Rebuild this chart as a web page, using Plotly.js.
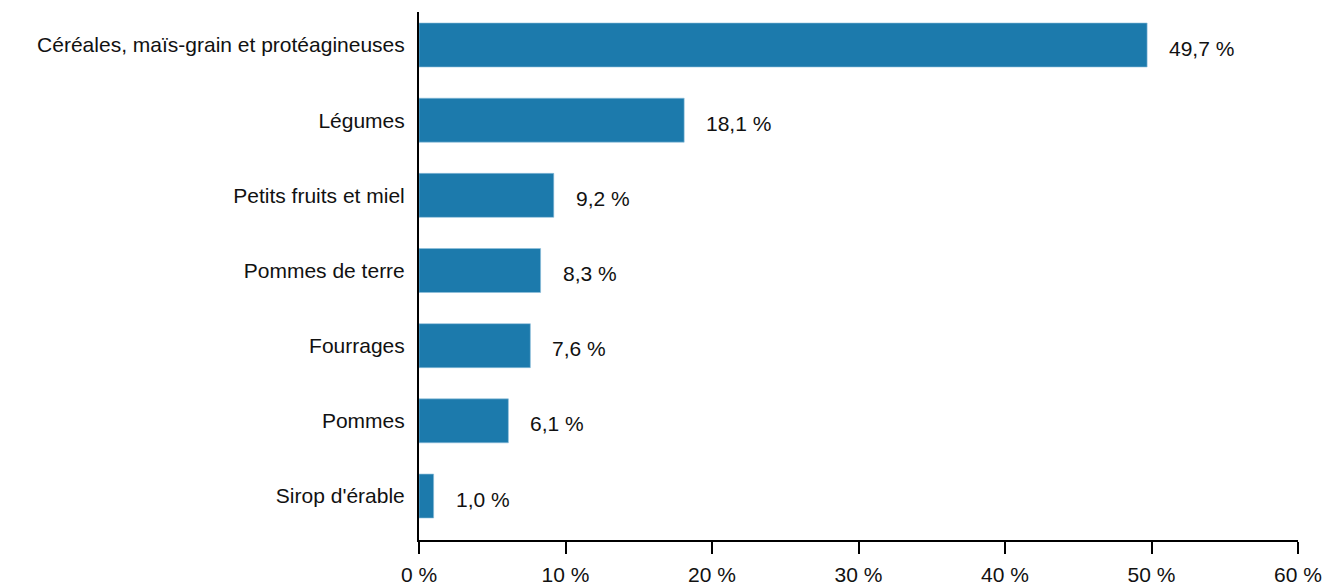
<!DOCTYPE html>
<html>
<head>
<meta charset="utf-8">
<script src="https://cdn.plot.ly/plotly-3.0.1.min.js"></script>
<style>html,body{margin:0;padding:0;background:#fff;}#chart{width:1327px;height:588px;}</style>
</head>
<body>
<div id="chart"></div>
<script>
const categories = ["Céréales, maïs-grain et protéagineuses", "Légumes", "Petits fruits et miel", "Pommes de terre", "Fourrages", "Pommes", "Sirop d'érable"];
const values = [49.7, 18.1, 9.2, 8.3, 7.6, 6.1, 1.0];
const valueLabels = ["49,7 %", "18,1 %", "9,2 %", "8,3 %", "7,6 %", "6,1 %", "1,0 %"];
const xTickVals = [0, 10, 20, 30, 40, 50, 60];
const xTickText = ["0 %", "10 %", "20 %", "30 %", "40 %", "50 %", "60 %"];

const FONT = "Liberation Sans, Arial, sans-serif";
const FS = 21;

const trace = {
  type: "bar",
  orientation: "h",
  y: categories,
  x: values,
  marker: {color: "#1c7aac", line: {color: "#8fc0dc", width: 0.6}},
  width: 0.585,
  hoverinfo: "none"
};

const annotations = categories.map((c, i) => ({
  x: values[i], y: c, xref: "x", yref: "y",
  text: valueLabels[i], showarrow: false,
  xanchor: "left", yanchor: "middle", xshift: 20, yshift: -3,
  font: {family: FONT, size: FS, color: "#111"}
}));

const layout = {
  width: 1327, height: 588,
  margin: {l: 419, r: 29, t: 12, b: 48, pad: 0},
  paper_bgcolor: "#fff", plot_bgcolor: "#fff",
  showlegend: false,
  font: {family: FONT, size: FS, color: "#111"},
  xaxis: {
    range: [0, 60], tickvals: xTickVals, ticktext: xTickText,
    showgrid: false, zeroline: false,
    showline: true, linecolor: "#000", linewidth: 2,
    ticks: "outside", ticklen: 12, tickwidth: 2, tickcolor: "#000",
    ticklabelstandoff: 3,
    tickfont: {family: FONT, size: FS, color: "#111"}, fixedrange: true
  },
  yaxis: {
    type: "category", range: [6.585, -0.439],
    showgrid: false, zeroline: false,
    showline: true, linecolor: "#000", linewidth: 2,
    ticks: "", ticklabelstandoff: 8,
    tickfont: {family: FONT, size: FS, color: "#111"}, fixedrange: true
  },
  annotations: annotations
};

Plotly.newPlot("chart", [trace], layout, {displayModeBar: false, staticPlot: true});
</script>
</body>
</html>
